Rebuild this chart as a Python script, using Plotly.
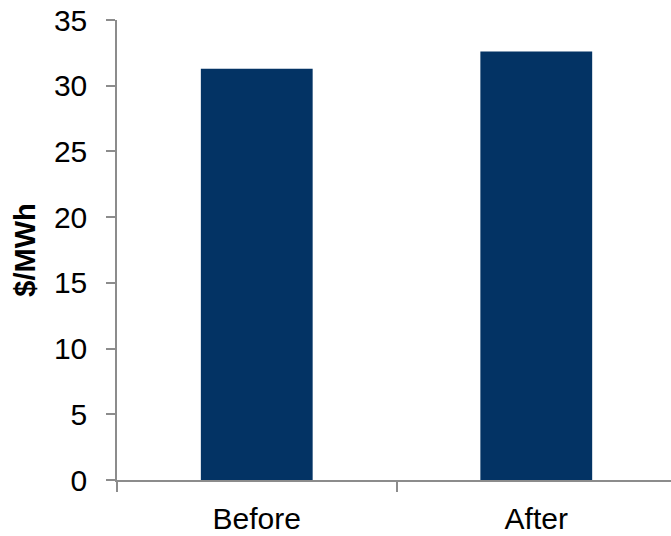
import plotly.graph_objects as go

categories = ["Before", "After"]
values = [31.3, 32.6]
y_ticks = [0, 5, 10, 15, 20, 25, 30, 35]

fig = go.Figure(go.Bar(x=categories, y=values, width=0.4, marker=dict(color="#033364", line=dict(width=0))))

axis_col = "#8c8c8c"
fig.update_layout(
    width=671, height=536,
    margin=dict(l=117, r=0, t=20, b=56),
    paper_bgcolor="white", plot_bgcolor="white",
    font=dict(family="Liberation Sans, Arial, sans-serif", color="black", size=30),
    showlegend=False,
)
fig.update_xaxes(
    range=[-0.5, 1.482], tickson="boundaries", ticks="outside", ticklen=10, tickwidth=1.5,
    tickcolor=axis_col, showline=True, linecolor=axis_col, linewidth=1.5,
    showgrid=False, tickfont=dict(size=30), ticklabelstandoff=11, automargin=False,
    ticklabeloverflow="allow",
)
fig.update_yaxes(
    range=[0, 35], tickvals=y_ticks, ticks="outside", ticklen=9, tickwidth=1.5,
    tickcolor=axis_col, showline=True, linecolor=axis_col, linewidth=1.5,
    showgrid=False, zeroline=False, tickfont=dict(size=30), ticklabelstandoff=13,
    ticklabeloverflow="allow",
    title=dict(text="<b>$/MWh</b>", font=dict(size=29), standoff=10), automargin=False,
)
fig.write_html("out.html", config={"displayModeBar": False},
               post_script="document.body.style.margin='0';")
